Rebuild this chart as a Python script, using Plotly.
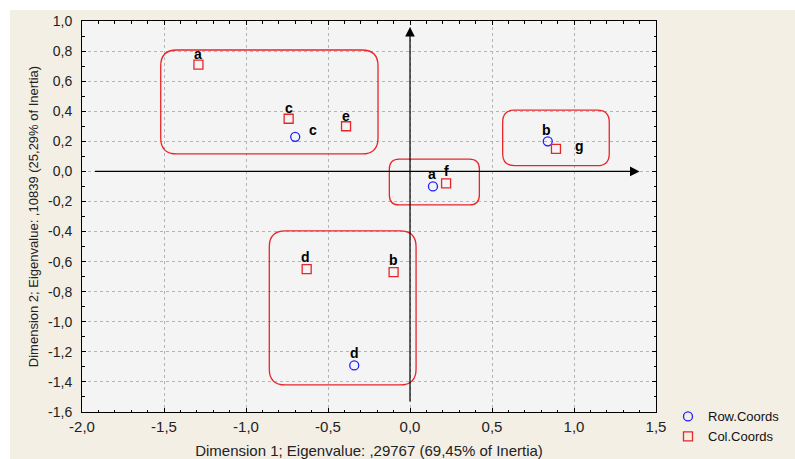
import plotly.graph_objects as go

# Correspondence analysis coordinates
row_labels = ["a", "b", "c", "d"]
row_x = [0.14, 0.84, -0.70, -0.34]
row_y = [-0.10, 0.20, 0.23, -1.29]

col_labels = ["a", "b", "c", "d", "e", "f", "g"]
col_x = [-1.29, -0.10, -0.74, -0.63, -0.39, 0.22, 0.89]
col_y = [0.71, -0.67, 0.35, -0.65, 0.30, -0.08, 0.15]

x_ticks = [-2.0, -1.5, -1.0, -0.5, 0.0, 0.5, 1.0, 1.5]
y_ticks = [-1.6, -1.4, -1.2, -1.0, -0.8, -0.6, -0.4, -0.2, 0.0, 0.2, 0.4, 0.6, 0.8, 1.0]

# Clusters of points outlined with rounded boxes: (x0, x1, y0, y1, corner radius px)
groups = [
    (-1.52, -0.195, 0.116, 0.807, 16),
    (0.565, 1.215, 0.038, 0.408, 12),
    (-0.126, 0.423, -0.223, 0.082, 10),
    (-0.858, 0.037, -1.420, -0.396, 16),
]

# Label offsets in pixels (dx, dy) for each point
row_offsets = [(-1, 12), (-1, 11), (18, 7), (0, 12)]
col_offsets = [(0, 11), (0, 12), (0, 11), (-1, 12), (0, 10), (0, 12), (24, 3)]

X_RANGE = [-2.0, 1.5]
Y_RANGE = [-1.6, 1.0]
W, H = 795, 459
M = dict(l=82, r=139, t=21, b=47, autoexpand=False)
PW = W - M["l"] - M["r"]
PH = H - M["t"] - M["b"]
px_x = PW / (X_RANGE[1] - X_RANGE[0])
px_y = PH / (Y_RANGE[1] - Y_RANGE[0])


def fmt(v):
    return f"{v:.1f}".replace(".", ",")


def rounded_box(x0, x1, y0, y1, r):
    rx = r / px_x
    ry = r / px_y
    return (
        f"M {x0 + rx},{y1} L {x1 - rx},{y1} Q {x1},{y1} {x1},{y1 - ry} "
        f"L {x1},{y0 + ry} Q {x1},{y0} {x1 - rx},{y0} "
        f"L {x0 + rx},{y0} Q {x0},{y0} {x0},{y0 + ry} "
        f"L {x0},{y1 - ry} Q {x0},{y1} {x0 + rx},{y1} Z"
    )


fig = go.Figure()

fig.add_trace(go.Scatter(
    x=row_x, y=row_y, mode="markers", name="Row.Coords",
    marker=dict(symbol="circle-open", size=9, color="#1f1fff", line=dict(width=1.3)),
))
fig.add_trace(go.Scatter(
    x=col_x, y=col_y, mode="markers", name="Col.Coords",
    marker=dict(symbol="square-open", size=9, color="#e8262a", line=dict(width=1.3)),
))

annotations = []
for labels, xs, ys, offs in ((row_labels, row_x, row_y, row_offsets),
                             (col_labels, col_x, col_y, col_offsets)):
    for lab, x, y, (dx, dy) in zip(labels, xs, ys, offs):
        annotations.append(dict(
            x=x, y=y, text=f"<b>{lab}</b>", showarrow=False,
            xshift=dx, yshift=dy, font=dict(size=14, color="black"),
        ))

# Principal axes drawn as arrows through the origin
annotations.append(dict(
    x=1.40, y=0, ax=-1.93, ay=0, xref="x", yref="y", axref="x", ayref="y",
    text="", showarrow=True, arrowhead=2, arrowsize=1.6, arrowwidth=1.2,
    arrowcolor="black",
))
annotations.append(dict(
    x=0, y=0.96, ax=0, ay=-1.54, xref="x", yref="y", axref="x", ayref="y",
    text="", showarrow=True, arrowhead=2, arrowsize=1.6, arrowwidth=1.2,
    arrowcolor="black",
))

shapes = [
    dict(type="path", path=rounded_box(*g), xref="x", yref="y",
         line=dict(color="#e8262a", width=1.3))
    for g in groups
]
# White strips along the top and left edge of the page
shapes.append(dict(type="rect", xref="paper", yref="paper",
                   x0=-M["l"] / PW, x1=(W - M["l"]) / PW,
                   y0=1 + (M["t"] - 10) / PH, y1=1 + M["t"] / PH,
                   fillcolor="white", line=dict(width=0), layer="below"))
shapes.append(dict(type="rect", xref="paper", yref="paper",
                   x0=-M["l"] / PW, x1=-(M["l"] - 10) / PW,
                   y0=-M["b"] / PH, y1=1 + M["t"] / PH,
                   fillcolor="white", line=dict(width=0), layer="below"))

axis_common = dict(
    showline=True, linecolor="black", linewidth=1, mirror="allticks",
    ticks="inside", ticklen=4, tickcolor="black",
    showgrid=True, gridcolor="#b4b4b4", gridwidth=1, griddash="dot",
    zeroline=False, automargin=False,
    minor=dict(ticks="inside", ticklen=2.5, tickcolor="black", showgrid=False,
               dtick=0.1),
)

fig.update_layout(
    width=W, height=H, margin=M, autosize=False,
    paper_bgcolor="#f3efe5", plot_bgcolor="#f4f4f4",
    font=dict(family="Liberation Sans, Arial", size=12, color="#222"),
    xaxis=dict(
        range=X_RANGE, tickvals=x_ticks, ticktext=[fmt(v) for v in x_ticks],
        tickfont=dict(family="Liberation Sans, Arial", size=15, color="#222"),
        ticklabelstandoff=1,
        title=dict(text="Dimension 1; Eigenvalue: ,29767 (69,45% of Inertia)",
                   font=dict(size=15), standoff=11),
        **axis_common,
    ),
    yaxis=dict(
        range=Y_RANGE, tickvals=y_ticks, ticktext=[fmt(v) for v in y_ticks],
        tickfont=dict(family="Liberation Sans, Arial", size=14, color="#222"),
        ticklabelstandoff=6,
        title=dict(text="Dimension 2; Eigenvalue: ,10839 (25,29% of Inertia)",
                   font=dict(size=13), standoff=6),
        **axis_common,
    ),
    legend=dict(x=(668 - M["l"]) / PW, y=0.027,
                xanchor="left", yanchor="top", bgcolor="rgba(0,0,0,0)",
                tracegroupgap=0,
                font=dict(size=13, color="#111")),
    shapes=shapes,
    annotations=annotations,
)

fig.write_html("out.html")
